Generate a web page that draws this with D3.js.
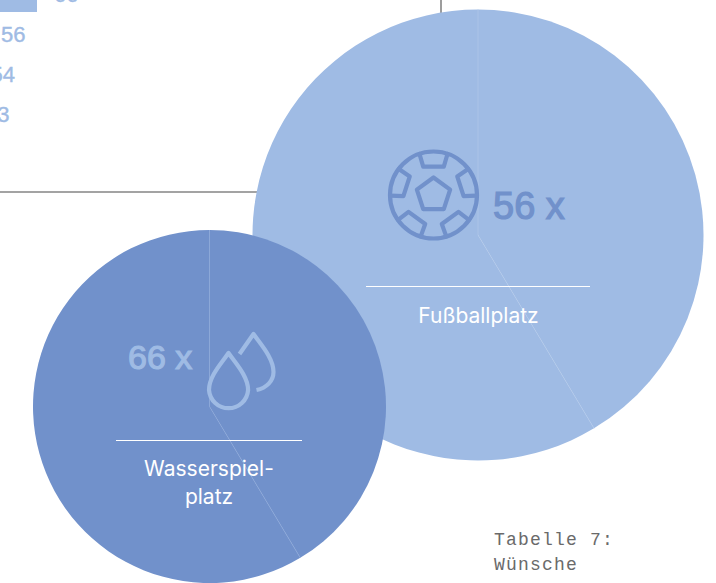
<!DOCTYPE html>
<html><head><meta charset="utf-8">
<style>html,body{margin:0;padding:0;background:#fff;overflow:hidden}svg{display:block}</style>
<script src="https://cdn.jsdelivr.net/npm/d3@7"></script></head>
<body><svg id="c" width="716" height="583"></svg>
<script>
const barValues = [66, 56, 54, 53];
const wishes = ["Fußballplatz", "Wasserspielplatz"];
const wishCounts = [56, 66];
const sliceShares = [41.4, 58.6];
const wishLabels = [["Fußballplatz"], ["Wasserspiel-", "platz"]];
const captionLines = ["Tabelle 7:", "Wünsche"];

const LIGHT = "#9fbbe4", DARK = "#7191cb";
const svg = d3.select("#c");
const sans = "Inter, 'Liberation Sans', sans-serif";
const arial = "'Liberation Sans', Arial, sans-serif";

// cropped bar list in the top left
const x = d3.scaleLinear().domain([66, 56]).range([37, -16]);
const y = d3.scaleBand().domain(barValues.map((d, i) => i)).range([-9, 151]);
svg.append("line").attr("x1", 0).attr("x2", 260).attr("y1", 192).attr("y2", 192).attr("stroke", "#858585").attr("stroke-width", 1.6);
svg.append("line").attr("x1", 441).attr("x2", 441).attr("y1", 0).attr("y2", 20).attr("stroke", "#858585").attr("stroke-width", 1.6);
svg.selectAll("rect.bar").data(barValues.slice(0, 1)).join("rect").attr("class", "bar")
  .attr("x", 0).attr("y", -20).attr("width", d => x(d)).attr("height", 32).attr("fill", LIGHT);
svg.selectAll("text.val").data(barValues).join("text").attr("class", "val")
  .attr("x", d => x(d) + 17).attr("y", (d, i) => y(i) + 10.7)
  .attr("font-family", arial).attr("font-size", 22).attr("fill", LIGHT).attr("stroke", LIGHT).attr("stroke-width", 0.4).text(d => d);

// pies
const pie = d3.pie().sort(null).value(d => d);
const pieces = pie(sliceShares);
const circles = [
  { cx: 478, cy: 235, r: 225.5, fill: LIGHT, seam: "#b2c9ea", num: DARK, numX: 493, numY: 219, numSize: 38, lineY: 286.5, lx: [366, 590], labelY: [323] },
  { cx: 209.5, cy: 406.5, r: 176.5, fill: DARK, seam: "#8aa6d8", num: LIGHT, numX: 128, numY: 369, numSize: 34, lineY: 440.5, lx: [116, 302], labelY: [476, 504] }
];
circles.forEach((c, k) => {
  const g = svg.append("g");
  const pg = g.append("g").attr("transform", `translate(${c.cx},${c.cy})`);
  pg.selectAll("path").data(pieces).join("path")
    .attr("d", d3.arc().innerRadius(0).outerRadius(c.r)).attr("fill", c.fill);
  const a = pieces[0].endAngle;
  const [sx, sy] = d3.pointRadial(a, c.r), [tx, ty] = d3.pointRadial(0, c.r);
  pg.append("path").attr("d", `M${tx},${ty}L0,0L${sx},${sy}`).attr("fill", "none")
    .attr("stroke", c.seam).attr("stroke-width", 0.7);
  g.append("text").attr("x", c.numX).attr("y", c.numY).attr("font-family", arial).attr("font-size", c.numSize)
    .attr("fill", c.num).attr("stroke", c.num).attr("stroke-width", 1.2).text(wishCounts[k] + " x");
  g.append("line").attr("x1", c.lx[0]).attr("x2", c.lx[1]).attr("y1", c.lineY).attr("y2", c.lineY)
    .attr("stroke", "#fff").attr("stroke-width", 1.2);
  wishLabels[k].forEach((t, i) => g.append("text").attr("x", k ? 209 : 478.5).attr("y", c.labelY[i])
    .attr("text-anchor", "middle").attr("font-family", sans).attr("font-size", 21).attr("fill", "#fff").text(t));
});

// ball icon
const ball = svg.append("g").attr("transform", "translate(433.5,195)")
  .attr("fill", "none").attr("stroke", DARK).attr("stroke-width", 4.2).attr("stroke-linejoin", "round").attr("stroke-linecap", "round");
ball.append("circle").attr("r", 43.5);
const penta = d3.range(5).map(i => d3.pointRadial(i * 2 * Math.PI / 5, 17.5));
ball.append("path").attr("d", d3.line()(penta) + "Z");
d3.range(5).forEach(i => ball.append("path").attr("transform", `rotate(${i * 72})`)
  .attr("d", "M-14,-41L-10.3,-28.3L10.3,-28.3L14,-41"));

// drops icon
const drops = svg.append("g").attr("transform", "translate(228.5,353)")
  .attr("fill", "none").attr("stroke", LIGHT).attr("stroke-width", 4.2).attr("stroke-linejoin", "round");
drops.append("path").attr("d", "M0,0C-6,9 -19.5,23 -19.5,37A19.6,19.6 0 0 0 19.6,37C19.6,23 6,9 0,0Z");
drops.append("path").attr("d", "M11,1L25,-19C32,-9 45,5 45,19C45,28 38,35 28,37");

// caption
captionLines.forEach((t, i) => svg.append("text").attr("x", 494).attr("y", 545 + i * 25)
  .attr("font-family", "'Liberation Mono', monospace").attr("font-size", 18).attr("letter-spacing", 1.2)
  .attr("fill", "#6a6a6a").text(t));
</script></body></html>
